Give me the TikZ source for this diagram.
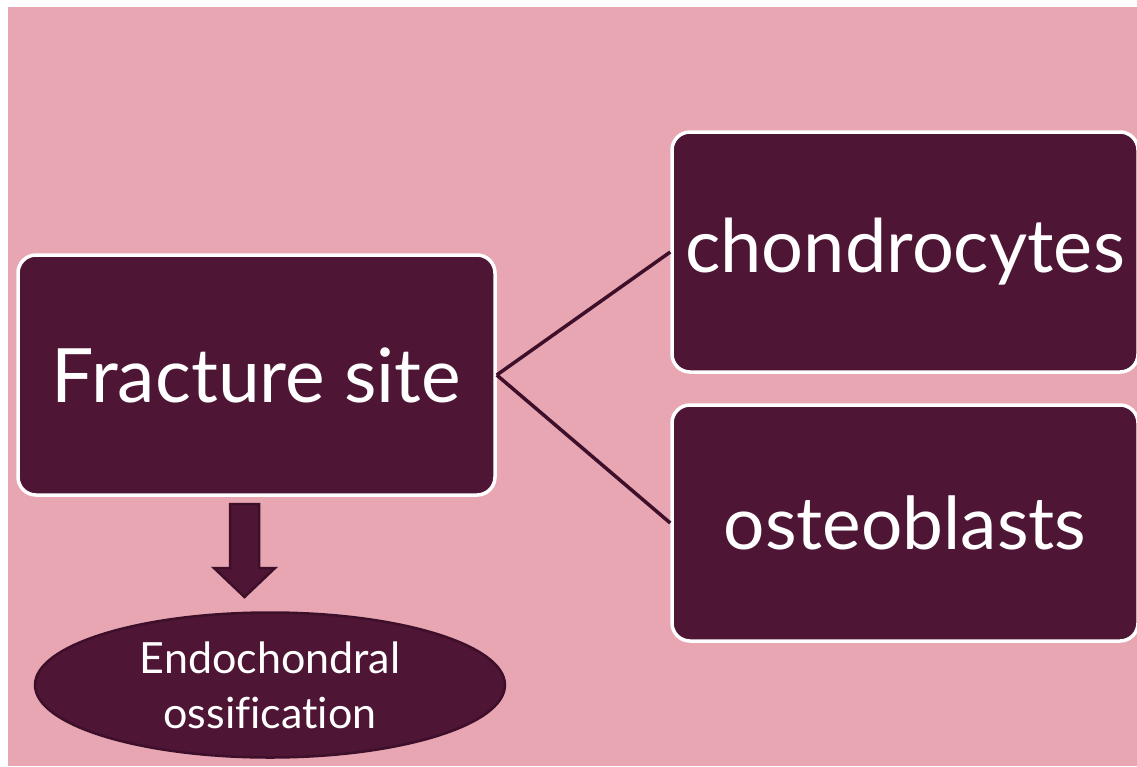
\documentclass[tikz,border=0pt]{standalone}
\usepackage{fontspec}
\setmainfont{Lato}[Ligatures=NoCommon]
\usetikzlibrary{shapes.geometric}
\definecolor{bgpink}{HTML}{E8A6B2}
\definecolor{plum}{HTML}{4E1535}
\definecolor{plumline}{HTML}{3E0F2A}
\begin{document}
\begin{tikzpicture}[x=1pt,y=-1pt,
  box/.style={draw=white, line width=3.5pt, fill=plum, rounded corners=18pt, text=white, inner sep=0pt},
  conn/.style={draw=plumline, line width=3.5pt},
  oval/.style={ellipse, draw=plumline, line width=2.5pt, fill=plum, text=white, inner sep=0pt, align=center},
  blockarrow/.style={draw=plumline, line width=2.5pt, fill=plum, line join=miter}]
\useasboundingbox (0,0) rectangle (1137,766);
\fill[white] (0,0) rectangle (1137,766);
\fill[bgpink] (8,7) rectangle (1137,766);
\node[box, minimum width=477pt, minimum height=240pt, font=\fontsize{75}{85}\selectfont] (frac) at (256.5,375) {Fracture site};
\node[box, minimum width=466pt, minimum height=240pt, font=\fontsize{74}{85}\selectfont] (chon) at (905,252) {chondrocytes};
\node[box, minimum width=466pt, minimum height=236pt, font=\fontsize{73}{85}\selectfont] (oste) at (905,523) {osteoblasts};
\node[oval, minimum width=470pt, minimum height=145pt, font=\fontsize{43}{55}\selectfont] (endo) at (270,685) {Endochondral\\ossification};
\draw[conn] (frac.east) -- (chon.west);
\draw[conn] (frac.east) -- (oste.west);
\path[blockarrow] (230,504) -- (259,504) -- (259,568) -- (275,568) -- (244.5,597) -- (214,568) -- (230,568) -- cycle;
\end{tikzpicture}
\end{document}
